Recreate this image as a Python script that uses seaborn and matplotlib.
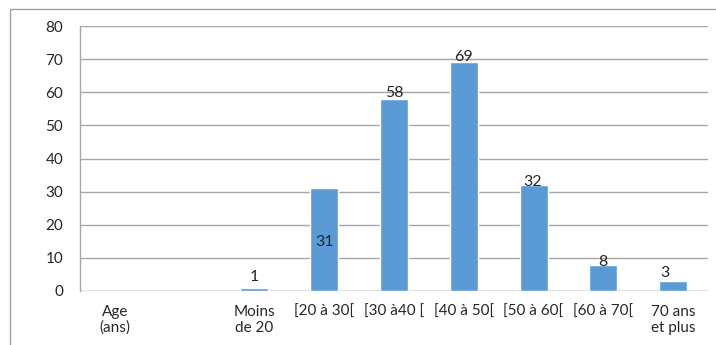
import numpy as np
import pandas as pd
import matplotlib
matplotlib.use("Agg")
import matplotlib.pyplot as plt
from matplotlib.patches import Rectangle
from matplotlib.ticker import FixedLocator
import seaborn as sns

# Age groups and respondent counts
categories = ["Age\n(ans)", " ", "Moins\nde 20", "[20 à 30[", "[30 à40 [",
              "[40 à 50[", "[50 à 60[", "[60 à 70[", "70 ans\net plus"]
counts = [np.nan, np.nan, 1, 31, 58, 69, 32, 8, 3]
y_ticks = [0, 10, 20, 30, 40, 50, 60, 70, 80]

sns.set_theme(style="white")
plt.rcParams["font.family"] = ["Lato", "DejaVu Sans"]

W, H = 716, 345
fig = plt.figure(figsize=(W / 100, H / 100), dpi=100)
ax = fig.add_axes([80 / W, 1 - 291 / H, 628 / W, 265 / H])

df = pd.DataFrame({"cat": categories, "n": counts})
sns.barplot(data=df, x="cat", y="n", order=categories, color="#5B9BD5",
            saturation=1, width=0.4, ax=ax, zorder=3)

ax.set_ylim(0, 80)
ax.set_xlim(-0.5, len(categories) - 0.5)
ax.set_xlabel("")
ax.set_ylabel("")
ax.set_yticks(y_ticks)
ax.yaxis.grid(True, color="#A6A6A6", lw=1, zorder=0)
ax.xaxis.grid(False)

for side in ("top", "right", "bottom"):
    ax.spines[side].set_visible(False)
ax.spines["left"].set_color("#A6A6A6")
ax.spines["left"].set_linewidth(1)
ax.axhline(0, color="#A6A6A6", lw=1, zorder=2)

text_color = "#262626"
ax.tick_params(axis="y", length=6, width=1, color="#A6A6A6", pad=6,
               labelsize=11, labelcolor=text_color, direction="out")
ax.set_xticks(range(len(categories)))
ax.set_xticklabels(categories, multialignment="center", linespacing=1.15,
                   va="top")
ax.tick_params(axis="x", which="major", length=0, pad=10,
               labelsize=11, labelcolor=text_color)
ax.xaxis.set_minor_locator(FixedLocator(np.arange(0.5, len(categories) - 0.5 + 1, 1.0)))
ax.tick_params(axis="x", which="minor", length=5, width=1, color="#A6A6A6",
               direction="out")

# value labels (offsets in points from the top of each bar)
label_offsets = {2: (0, 8), 3: None, 4: (0, 4), 5: (0, 4), 6: (-1, 2),
                 7: (0, 2), 8: (-6, 6)}
for i, v in enumerate(counts):
    if np.isnan(v):
        continue
    off = label_offsets[i]
    if off is None:
        ax.annotate(f"{int(v)}", xy=(i, v / 2), xytext=(0, -2),
                    textcoords="offset points", ha="center", va="center",
                    fontsize=11.5, color=text_color, zorder=5)
    else:
        ax.annotate(f"{int(v)}", xy=(i, v), xytext=off,
                    textcoords="offset points", ha="center", va="center",
                    fontsize=11.5, color=text_color, zorder=5)

# chart frame
fig.patches.append(Rectangle((10 / W, -0.1), 1.0, 1 - 9 / H + 0.1,
                             transform=fig.transFigure, fill=False,
                             edgecolor="#A0A0A0", lw=1))

fig.savefig("out.png", dpi=100, facecolor="white")
